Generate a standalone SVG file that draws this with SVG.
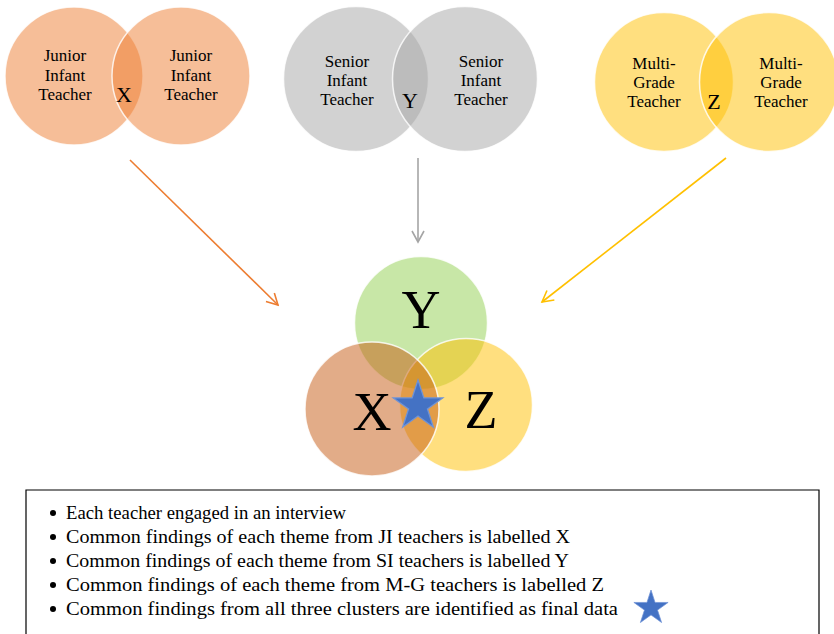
<svg xmlns="http://www.w3.org/2000/svg" width="834" height="634" viewBox="0 0 834 634">
  <style>
    .lbl { font-family: "Liberation Serif", "Times New Roman", serif; font-size: 17px; fill: #000; text-anchor: middle; }
    .mid { font-family: "Liberation Serif", "Times New Roman", serif; font-size: 22px; fill: #000; text-anchor: middle; }
    .big { font-family: "Liberation Serif", "Times New Roman", serif; font-size: 54px; fill: #000; text-anchor: middle; }
    .note { font-family: "Liberation Serif", "Times New Roman", serif; font-size: 19px; fill: #000; }
    .ring { stroke: #ffffff; stroke-width: 1.5; stroke-opacity: 0.8; }
    .conn { fill: none; stroke-width: 1.6; }
    .star { fill: #4472C4; stroke: #6F93D6; stroke-width: 1.2; }
  </style>
  <defs>
    <marker id="headO" viewBox="0 0 14 14" refX="12" refY="7" markerWidth="14" markerHeight="14" markerUnits="userSpaceOnUse" orient="auto">
      <path d="M1,1 L12,7 L1,13" fill="none" stroke="#ED7D31" stroke-width="1.6"/>
    </marker>
    <marker id="headG" viewBox="0 0 14 14" refX="12" refY="7" markerWidth="14" markerHeight="14" markerUnits="userSpaceOnUse" orient="auto">
      <path d="M1,1 L12,7 L1,13" fill="none" stroke="#A5A5A5" stroke-width="1.6"/>
    </marker>
    <marker id="headY" viewBox="0 0 14 14" refX="12" refY="7" markerWidth="14" markerHeight="14" markerUnits="userSpaceOnUse" orient="auto">
      <path d="M1,1 L12,7 L1,13" fill="none" stroke="#FFC000" stroke-width="1.6"/>
    </marker>
    <path id="starShape" d="M0,-100 L22.45,-30.9 L95.1,-30.9 L36.3,11.8 L58.8,80.9 L0,38.2 L-58.8,80.9 L-36.3,11.8 L-95.1,-30.9 L-22.45,-30.9 Z"/>
  </defs>

  <!-- Junior infant pair -->
  <g id="junior">
    <circle cx="74" cy="76" r="69" fill="#ED7D31" fill-opacity="0.5" class="ring"/>
    <circle cx="181" cy="76" r="69" fill="#ED7D31" fill-opacity="0.5" class="ring"/>
    <text class="lbl" x="65" y="61">Junior</text>
    <text class="lbl" x="65" y="81">Infant</text>
    <text class="lbl" x="65" y="100">Teacher</text>
    <text class="lbl" x="191" y="61">Junior</text>
    <text class="lbl" x="191" y="81">Infant</text>
    <text class="lbl" x="191" y="100">Teacher</text>
    <text class="mid" x="124" y="102">X</text>
  </g>

  <!-- Senior infant pair -->
  <g id="senior">
    <circle cx="356" cy="79" r="72.5" fill="#A5A5A5" fill-opacity="0.5" class="ring"/>
    <circle cx="465" cy="79" r="72.5" fill="#A5A5A5" fill-opacity="0.5" class="ring"/>
    <text class="lbl" x="347" y="67">Senior</text>
    <text class="lbl" x="347" y="86">Infant</text>
    <text class="lbl" x="347" y="105">Teacher</text>
    <text class="lbl" x="481" y="67">Senior</text>
    <text class="lbl" x="481" y="86">Infant</text>
    <text class="lbl" x="481" y="105">Teacher</text>
    <text class="mid" x="410" y="108">Y</text>
  </g>

  <!-- Multi-grade pair -->
  <g id="multigrade">
    <circle cx="664" cy="82" r="69.5" fill="#FFC000" fill-opacity="0.5" class="ring"/>
    <circle cx="769" cy="82" r="69.5" fill="#FFC000" fill-opacity="0.5" class="ring"/>
    <text class="lbl" x="654" y="69">Multi-</text>
    <text class="lbl" x="654" y="88">Grade</text>
    <text class="lbl" x="654" y="107">Teacher</text>
    <text class="lbl" x="781" y="69">Multi-</text>
    <text class="lbl" x="781" y="88">Grade</text>
    <text class="lbl" x="781" y="107">Teacher</text>
    <text class="mid" x="714" y="109">Z</text>
  </g>

  <!-- Connectors -->
  <g id="connectors">
    <line class="conn" x1="130" y1="160" x2="278" y2="305" stroke="#ED7D31" marker-end="url(#headO)"/>
    <line class="conn" x1="418" y1="158" x2="418" y2="242" stroke="#A5A5A5" marker-end="url(#headG)"/>
    <line class="conn" x1="726" y1="158" x2="542" y2="302" stroke="#FFC000" marker-end="url(#headY)"/>
  </g>

  <!-- Combined three-cluster Venn -->
  <g id="combined">
    <circle cx="421" cy="323" r="66.5" fill="#92D050" fill-opacity="0.5" class="ring"/>
    <circle cx="466" cy="405" r="66.5" fill="#FFC000" fill-opacity="0.5" class="ring"/>
    <circle cx="372" cy="409" r="67" fill="#C55A11" fill-opacity="0.5" class="ring"/>
    <text class="big" x="421" y="328">Y</text>
    <text class="big" x="372" y="430">X</text>
    <text class="big" x="481" y="428">Z</text>
    <use href="#starShape" class="star" transform="translate(418,406) scale(0.26)" vector-effect="non-scaling-stroke" style="stroke-width:5"/>
  </g>

  <!-- Legend box -->
  <g id="legend">
    <path d="M26,640 L26,490 L819,490 L819,640" fill="none" stroke="#000" stroke-width="1.2"/>
    <circle cx="53" cy="513" r="3"/>
    <circle cx="53" cy="537" r="3"/>
    <circle cx="53" cy="561" r="3"/>
    <circle cx="53" cy="585" r="3"/>
    <circle cx="53" cy="609" r="3"/>
    <text class="note" x="66" y="519" textLength="280" lengthAdjust="spacingAndGlyphs">Each teacher engaged in an interview</text>
    <text class="note" x="66" y="543" textLength="504" lengthAdjust="spacingAndGlyphs">Common findings of each theme from JI teachers is labelled X</text>
    <text class="note" x="66" y="567" textLength="503" lengthAdjust="spacingAndGlyphs">Common findings of each theme from SI teachers is labelled Y</text>
    <text class="note" x="66" y="591" textLength="538" lengthAdjust="spacingAndGlyphs">Common findings of each theme from M-G teachers is labelled Z</text>
    <text class="note" x="66" y="615" textLength="552" lengthAdjust="spacingAndGlyphs">Common findings from all three clusters are identified as final data</text>
    <use href="#starShape" class="star" transform="translate(651,608) scale(0.18)" style="stroke-width:4"/>
  </g>
</svg>
